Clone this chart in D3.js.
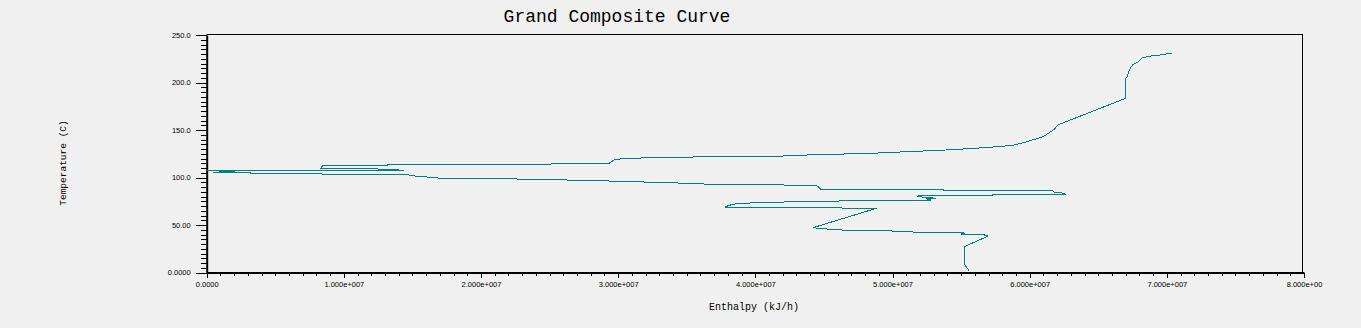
<!DOCTYPE html>
<html>
<head>
<meta charset="utf-8">
<script src="https://cdn.jsdelivr.net/npm/d3@7"></script>
<style>
  html, body { margin: 0; padding: 0; background: #f0f0f0; }
  svg { display: block; }
</style>
</head>
<body>
<svg id="chart" width="1361" height="328"></svg>
<script>
// ---- data (enthalpy in 1e6 kJ/h, temperature in C) ----
const enthalpyM = [
  70.4, 69.5, 68.97, 68.2, 67.9, 67.5, 67.3, 67.1, 67.0, 67.0,
  62.05, 61.8, 60.98, 59.4, 58.77, 57.8, 56.0, 53.57, 51.75, 50.0,
  47.9, 45.26, 43.17, 41.55, 33.3, 30.98, 29.8, 29.5, 29.34, 28.18,
  23.3, 8.5, 8.4, 8.33, 10.66, 12.56, 14.38, 0.0, 2.06, 0.46,
  3.16, 3.23, 8.38, 8.43, 14.65, 14.96, 15.42, 16.28, 17.08, 24.85,
  26.77, 30.32, 32.67, 35.06, 36.83, 44.34, 44.56, 44.78, 53.74, 53.74,
  61.63, 61.8, 62.2, 62.68, 57.26, 57.26, 51.99, 51.77, 53.2, 52.48,
  52.84, 50.17, 46.33, 42.95, 40.04, 38.63, 38.27, 38.0, 37.78, 39.8,
  48.83, 44.21, 44.9, 46.36, 49.93, 51.55, 55.03, 55.27, 54.98, 56.53,
  56.97, 55.27, 55.27, 55.58
];
const temperatureC = [
  231.1, 228.9, 228.4, 225.8, 221.6, 218.4, 214.2, 205.8, 204.4, 183.4,
  155.3, 150.7, 142.9, 136.0, 133.9, 132.6, 130.7, 128.7, 127.6, 126.5,
  125.1, 124.4, 123.4, 122.3, 121.3, 120.2, 119.2, 116.6, 114.9, 114.7,
  113.9, 112.8, 111.6, 109.7, 109.5, 108.9, 107.6, 107.6, 106.6, 105.5,
  105.3, 104.4, 104.2, 103.4, 103.2, 101.8, 101.3, 100.2, 99.2, 98.1,
  97.1, 96.0, 94.9, 93.9, 92.8, 91.8, 90.5, 87.6, 87.6, 86.5,
  86.5, 84.4, 84.2, 82.3, 82.3, 81.3, 81.3, 80.0, 78.1, 77.4,
  76.3, 76.0, 75.3, 74.5, 73.5, 72.4, 71.4, 70.2, 68.9, 68.6,
  67.6, 47.2, 46.1, 44.7, 43.7, 42.6, 42.3, 41.1, 40.5, 40.2,
  38.4, 27.4, 7.9, 1.9
];
const xTickValues = [0, 1e7, 2e7, 3e7, 4e7, 5e7, 6e7, 7e7, 8e7];
const xTickLabels = ["0.0000", "1.000e+007", "2.000e+007", "3.000e+007", "4.000e+007",
                     "5.000e+007", "6.000e+007", "7.000e+007", "8.000e+00"];
const yTickValues = [0, 50, 100, 150, 200, 250];
const yTickLabels = ["0.0000", "50.00", "100.0", "150.0", "200.0", "250.0"];
const titleText = "Grand Composite Curve";
const xAxisTitle = "Enthalpy (kJ/h)";
const yAxisTitle = "Temperature (C)";

// ---- layout ----
const svg = d3.select("#chart");
const plotLeft = 206.7, plotRight = 1304, plotTop = 35, plotBottom = 272.5;
const x = d3.scaleLinear().domain([0, 8e7]).range([plotLeft, plotRight]);
const y = d3.scaleLinear().domain([0, 250]).range([plotBottom, plotTop]);

svg.append("rect").attr("width", 1361).attr("height", 328).attr("fill", "#f0f0f0");

// frame (top/right)
svg.append("line").attr("x1", plotLeft).attr("x2", x(8e7) - 1).attr("y1", 34.5).attr("y2", 34.5)
  .attr("stroke", "#000").attr("stroke-width", 1);
svg.append("line").attr("x1", x(8e7) - 1.5).attr("x2", x(8e7) - 1.5).attr("y1", 34.5).attr("y2", plotBottom)
  .attr("stroke", "#000").attr("stroke-width", 1);

const tickFont = "'Liberation Sans', Arial, sans-serif";

// y axis minor ticks
const yMinor = d3.range(0, 251, 5);
svg.append("g").attr("transform", `translate(${plotLeft},0)`)
  .call(d3.axisLeft(y).tickValues(yMinor).tickSize(6).tickFormat(""))
  .call(g => g.select(".domain").remove())
  .call(g => g.selectAll("line").attr("stroke", "#000").attr("shape-rendering", "crispEdges"));
// y axis major
svg.append("g").attr("transform", `translate(${plotLeft},0)`)
  .call(d3.axisLeft(y).tickValues(yTickValues).tickSize(11).tickSizeOuter(0).tickPadding(5)
    .tickFormat((d, i) => yTickLabels[i]))
  .call(g => g.select(".domain").attr("stroke", "#000").attr("stroke-width", 2))
  .call(g => g.selectAll("line").attr("stroke", "#000").attr("shape-rendering", "crispEdges"))
  .call(g => g.selectAll("text").attr("font-family", tickFont).attr("font-size", "7.5px").attr("fill", "#000"));

// x axis minor ticks
const xMinor = d3.range(0, 80.5e6, 1e6);
svg.append("g").attr("transform", `translate(0,${plotBottom})`)
  .call(d3.axisBottom(x).tickValues(xMinor).tickSize(3).tickFormat(""))
  .call(g => g.select(".domain").remove())
  .call(g => g.selectAll("line").attr("stroke", "#000").attr("shape-rendering", "crispEdges"));
// x axis major
svg.append("g").attr("transform", `translate(0,${plotBottom})`)
  .call(d3.axisBottom(x).tickValues(xTickValues).tickSize(5).tickSizeOuter(0).tickPadding(4)
    .tickFormat((d, i) => xTickLabels[i]))
  .call(g => g.select(".domain").attr("stroke", "#000").attr("stroke-width", 2))
  .call(g => g.selectAll("line").attr("stroke", "#000").attr("shape-rendering", "crispEdges"))
  .call(g => g.selectAll("text").attr("font-family", tickFont).attr("font-size", "7.5px").attr("fill", "#000"));

// curve
const pts = enthalpyM.map((h, i) => [h * 1e6, temperatureC[i]]);
const line = d3.line().x(d => x(d[0])).y(d => y(d[1]));
svg.append("path").datum(pts).attr("d", line)
  .attr("fill", "none").attr("stroke", "#008080").attr("stroke-width", 1)
  .attr("shape-rendering", "crispEdges");

// titles
const monoFont = "'Liberation Mono', 'DejaVu Sans Mono', monospace";
svg.append("text").attr("x", 617).attr("y", 22).attr("text-anchor", "middle")
  .attr("font-family", monoFont).attr("font-size", "18px").attr("fill", "#000").text(titleText);
svg.append("text").attr("x", 754).attr("y", 310).attr("text-anchor", "middle")
  .attr("font-family", monoFont).attr("font-size", "10px").attr("fill", "#000").text(xAxisTitle);
svg.append("text").attr("transform", "translate(66,163) rotate(-90)").attr("text-anchor", "middle")
  .attr("font-family", monoFont).attr("font-size", "9.5px").attr("fill", "#000").text(yAxisTitle);
</script>
</body>
</html>
